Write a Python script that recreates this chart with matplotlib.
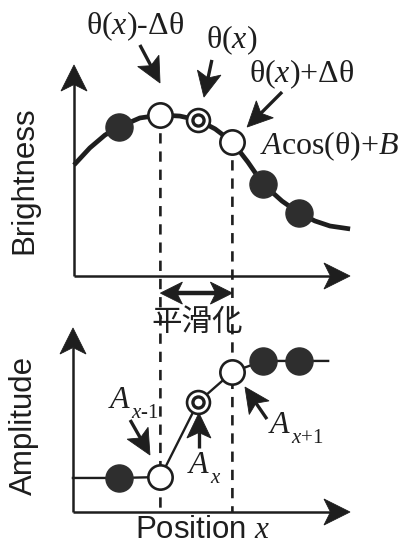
import matplotlib
matplotlib.use("Agg")
import matplotlib.pyplot as plt
import numpy as np
from matplotlib.patches import Polygon
from matplotlib.lines import Line2D
from matplotlib.transforms import IdentityTransform

plt.rcParams['mathtext.fontset'] = 'custom'
plt.rcParams['mathtext.rm'] = 'Liberation Serif'
plt.rcParams['mathtext.it'] = 'Liberation Serif:italic'
plt.rcParams['mathtext.bf'] = 'Liberation Serif:bold'

# ---------------- data ----------------
positions = [1.0, 2.15, 3.2, 4.15, 5.0, 6.0]
point_kind = ['filled', 'open', 'double', 'open', 'filled', 'filled']
brightness = [7.06, 7.63, 7.39, 6.35, 4.36, 2.99]
curve_x = [-0.25, 0.19, 0.61, 1.0, 1.58, 2.15, 2.69, 3.2, 3.67, 4.15, 4.58,
           5.0, 5.53, 6.0, 6.44, 6.86, 7.42]
curve_y = [5.26, 6.07, 6.68, 7.06, 7.49, 7.63, 7.58, 7.39, 6.97, 6.35, 5.40,
           4.36, 3.55, 2.99, 2.61, 2.37, 2.23]
amplitude = [1.85, 1.9, 5.98, 7.61, 8.21, 8.21]
amp_start = (-0.28, 1.85)
amp_end = (6.81, 8.21)
window = [2.15, 4.15]   # smoothing window (dashed lines)

top_labels = [r'$\text{θ(}x\text{)-Δθ}$', r'$\text{θ(}x\text{)}$', r'$\text{θ(}x\text{)+Δθ}$']
bottom_subscripts = [r'$x\text{-1}$', r'$x$', r'$x\text{+1}$']
curve_label = r'$A\text{cos(θ)+}B$'
ylabel_top = 'Brightness'
ylabel_bottom = 'Amplitude'
xlabel_bottom = r'Position $x$'
smooth_label = '平滑化'

INK = '#1e1e1e'
FILL = '#2e2e2e'

W, H = 404, 544
fig = plt.figure(figsize=(W / 100, H / 100), dpi=100)


def rect(l, t, r, b):
    return [l / W, 1 - b / H, (r - l) / W, (b - t) / H]


ax1 = fig.add_axes(rect(74, 65, 350, 276))
ax2 = fig.add_axes(rect(73, 328, 350, 512))
ax1.set_xlim(-0.25, 7.417)
ax1.set_ylim(0, 10)
ax2.set_xlim(-0.278, 7.417)
ax2.set_ylim(0, 10)
for ax in (ax1, ax2):
    ax.set_axis_off()
    ax.patch.set_visible(False)

ID = IdentityTransform()


def arrow(T, tail, tip, lw=2.4, hl=25, hw=24, notch=0.22, both=False, z=5):
    p0 = np.array(T.transform(tail), float)
    p1 = np.array(T.transform(tip), float)
    u = (p1 - p0) / np.hypot(*(p1 - p0))

    def head(t, uu):
        base = t - uu * hl
        nt = t - uu * hl * (1 - notch)
        nn = np.array([-uu[1], uu[0]])
        poly = [t, base + nn * hw / 2, nt, base - nn * hw / 2]
        fig.add_artist(Polygon(poly, closed=True, transform=ID, fc=INK,
                               ec=INK, lw=0.6, zorder=z))
        return nt + uu * 1.0

    e1 = head(p1, u)
    e0 = head(p0, -u) if both else p0
    fig.add_artist(Line2D([e0[0], e1[0]], [e0[1], e1[1]], transform=ID,
                          lw=lw, color=INK, solid_capstyle='butt', zorder=z))


def ftext(x, y, s, **kw):
    kw.setdefault('color', INK)
    fig.text(x / W, 1 - y / H, s, **kw)


# axes with arrowheads
for ax in (ax1, ax2):
    arrow(ax.transAxes, (0, 0), (0, 1), lw=1.8, hl=26, hw=26, notch=0.25)
    arrow(ax.transAxes, (0, 0), (1, 0), lw=1.8, hl=26, hw=26, notch=0.25)

# dashed window lines spanning both panels
for p in window:
    b = brightness[positions.index(p)]
    a0 = ax1.transData.transform((p, b))
    a1 = ax2.transData.transform((p, 0))
    fig.add_artist(Line2D([a0[0], a1[0]], [a0[1], a1[1]], transform=ID,
                          lw=1.9, color=INK, linestyle=(0, (3.9, 3.0)),
                          zorder=-1))

# top curve
ax1.plot(curve_x, curve_y, color=INK, lw=3.4, solid_capstyle='butt',
         clip_on=False, zorder=2)
# bottom polyline
ax2.plot([amp_start[0]] + positions + [amp_end[0]],
         [amp_start[1]] + amplitude + [amp_end[1]],
         color=INK, lw=1.7, clip_on=False, zorder=2)


def draw_points(ax, ys):
    for p, y, k in zip(positions, ys, point_kind):
        if k == 'filled':
            ax.plot(p, y, 'o', ms=19.5, mfc=FILL, mec=FILL, mew=1,
                    clip_on=False, zorder=3)
        elif k == 'open':
            ax.plot(p, y, 'o', ms=17.5, mfc='white', mec=INK, mew=1.9,
                    clip_on=False, zorder=3)
        else:
            ax.plot(p, y, 'o', ms=16.5, mfc='white', mec=INK, mew=1.9,
                    clip_on=False, zorder=3)
            ax.plot(p, y, 'o', ms=8.0, mfc='white', mec=INK, mew=2.4,
                    clip_on=False, zorder=4)


draw_points(ax1, brightness)
draw_points(ax2, amplitude)

# top annotations
arrow(ax1.transData, (1.58, 10.95), (2.14, 9.15))
arrow(ax1.transData, (3.58, 10.24), (3.36, 8.48))
arrow(ax1.transData, (5.53, 8.72), (4.56, 7.06))
ftext(135, 26, top_labels[0], fontsize=23, ha='center', va='center')
ftext(232, 40, top_labels[1], fontsize=23, ha='center', va='center')
ftext(302, 74, top_labels[2], fontsize=23, ha='center', va='center')
ftext(260, 146, curve_label, fontsize=23, ha='left', va='center')

# smoothing double arrow
arrow(ax1.transData, (window[0], -0.81), (window[1], -0.81), lw=3.2,
      hl=22, hw=22, notch=0.25, both=True)
ftext(197, 322, smooth_label, fontsize=22, ha='center', va='center',
      family=['Noto Sans CJK JP', 'DejaVu Sans'])

# bottom annotations
arrow(ax2.transData, (1.31, 5.0), (1.86, 3.10))
arrow(ax2.transData, (3.22, 3.48), (3.22, 5.38))
arrow(ax2.transData, (5.11, 5.05), (4.50, 6.79))
A_pos = [(108, 408), (187, 473), (268, 433)]
for (ax_, ay_), sub in zip(A_pos, bottom_subscripts):
    ftext(ax_, ay_, r'$A$', fontsize=23, ha='left', va='baseline')
    ftext(ax_ + 23, ay_ + 10, sub, fontsize=15, ha='left', va='baseline')

# axis labels
ftext(24, 180, ylabel_top, fontsize=22.5, rotation=90, ha='center',
      va='center', family='Liberation Sans')
ftext(24, 425, ylabel_bottom, fontsize=22.5, rotation=90, ha='center',
      va='center', family='Liberation Sans')
ftext(203, 530, xlabel_bottom, fontsize=22.5, ha='center', va='center',
      family='Liberation Sans')

fig.savefig('out.png', dpi=100)
